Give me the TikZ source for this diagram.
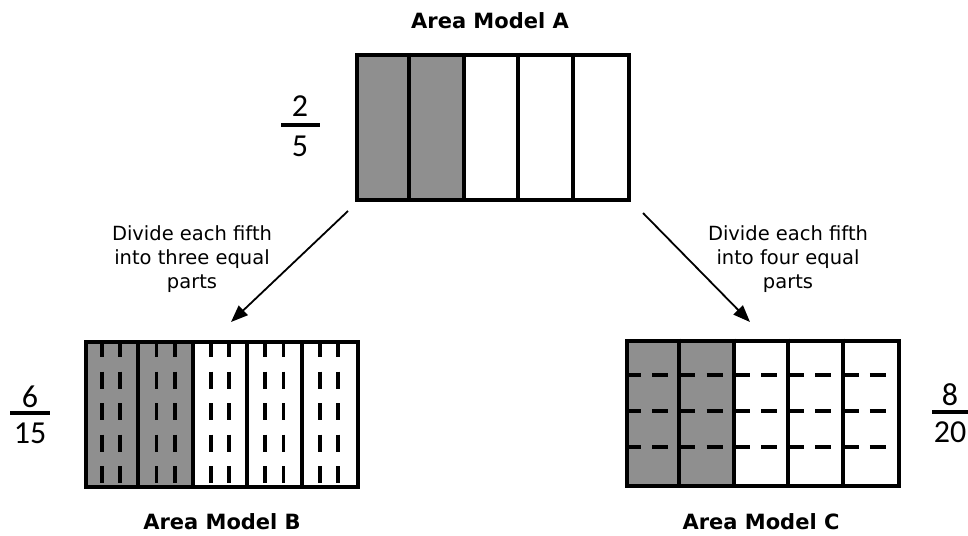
\documentclass[tikz,border=0pt]{standalone}
\usepackage{fontspec}
\setmainfont{DejaVu Sans}
\newfontfamily\fracfont{Carlito}
\usetikzlibrary{arrows.meta}
\definecolor{shadegray}{RGB}{143,143,143}
\tikzset{
  border/.style={line width=4.2pt},
  divline/.style={line width=4pt},
  vdash/.style={line width=3.8pt, dash pattern=on 17pt off 14.5pt},
  hdash/.style={line width=3.8pt, dash pattern=on 16pt off 11.2pt},
  title/.style={font=\bfseries\fontsize{21}{24}\selectfont, inner sep=0pt},
  note/.style={font=\fontsize{19.5}{24}\selectfont, align=center, inner sep=0pt},
  digit/.style={font=\fracfont\fontsize{32}{32}\selectfont, inner sep=0pt},
  fracbar/.style={line width=3.8pt},
  arrowline/.style={line width=1.8pt, -{Triangle[length=17pt,width=13pt]}},
  modelbox/.style={draw, border, rectangle, minimum width=272pt, minimum height=145pt, inner sep=0pt, anchor=north west}
}
\begin{document}
\begin{tikzpicture}[x=1pt,y=-1pt]
\useasboundingbox (0,0) rectangle (968,535);

% ---------- Area Model A ----------
\fill[shadegray] (355,53) rectangle (463.8,198);
\foreach \i in {1,2,3,4}
  \draw[divline] (355+54.4*\i,53) -- (355+54.4*\i,198);
\node[modelbox] (A) at (355,53) {};
\node[title] (tA) at (490,21) {Area Model A};

% fraction 2/5
\node[digit] (nA) at (300,106) {2};
\node[digit] (dA) at (300,146) {5};
\coordinate (bA1) at (281,125);
\coordinate (bA2) at (320,125);
\draw[fracbar] (bA1) -- (bA2);

% ---------- Area Model B ----------
\fill[shadegray] (84,340) rectangle (192.8,485);
\foreach \j in {0,...,4}
  \foreach \k in {1,2}
    \draw[vdash] (84+54.4*\j+18.13*\k,340) -- (84+54.4*\j+18.13*\k,485);
\foreach \i in {1,2,3,4}
  \draw[divline] (84+54.4*\i,340) -- (84+54.4*\i,485);
\node[modelbox] (B) at (84,340) {};
\node[title] (tB) at (222,522) {Area Model B};

% fraction 6/15
\node[digit] (nB) at (30,397) {6};
\node[digit] (dB) at (30,433) {15};
\coordinate (bB1) at (10,413);
\coordinate (bB2) at (50,413);
\draw[fracbar] (bB1) -- (bB2);

% ---------- Area Model C ----------
\fill[shadegray] (625,338.5) rectangle (733.8,483.5);
\foreach \k in {1,2,3}
  \draw[hdash] (625,338.5+36.25*\k) -- (897,338.5+36.25*\k);
\foreach \i in {1,2,3,4}
  \draw[divline] (625+54.4*\i,338.5) -- (625+54.4*\i,483.5);
\node[modelbox] (C) at (625,338.5) {};
\node[title] (tC) at (761,522) {Area Model C};

% fraction 8/20
\node[digit] (nC) at (950,395) {8};
\node[digit] (dC) at (950,432) {20};
\coordinate (bC1) at (932,412);
\coordinate (bC2) at (969,412);
\draw[fracbar] (bC1) -- (bC2);

% ---------- arrows ----------
\coordinate (s1) at (348,211);
\coordinate (e1) at (231,322);
\coordinate (s2) at (643,213);
\coordinate (e2) at (750,322);
\draw[arrowline] (s1) -- (e1);
\draw[arrowline] (s2) -- (e2);

\node[note] (n1) at (192,259) {Divide each fifth\\into three equal\\parts};
\node[note] (n2) at (788,259) {Divide each fifth\\into four equal\\parts};
\end{tikzpicture}
\end{document}
